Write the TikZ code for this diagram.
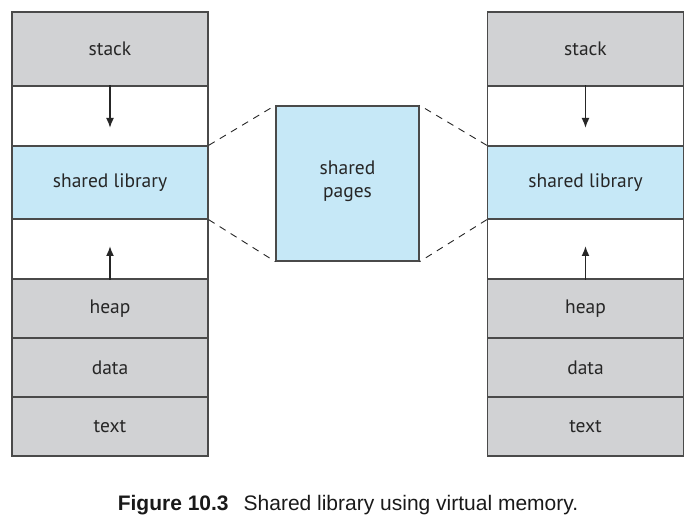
\documentclass[tikz,border=0pt]{standalone}
\usepackage{fontspec}
\newfontfamily\labfont{PT Sans}
\newfontfamily\capfont{Liberation Sans}
\definecolor{cellgray}{HTML}{D1D2D4}
\definecolor{cellblue}{HTML}{C6E8F7}
\definecolor{edge}{HTML}{4A4A4A}
\tikzset{
  cell/.style={draw=edge, line width=1.3pt, minimum width=196pt, inner sep=0pt, font=\labfont\fontsize{19.5}{23}\selectfont, text=black!85},
  graycell/.style={cell, fill=cellgray},
  bluecell/.style={cell, fill=cellblue},
  whitecell/.style={cell, fill=white},
  growarrow/.style={line width=1.7pt, draw=black!85, -{Latex[length=10pt,width=8pt]}},
  linkline/.style={draw=black!85, line width=0.9pt, dash pattern=on 7pt off 6pt}
}
\usetikzlibrary{arrows.meta}
\begin{document}
\begin{tikzpicture}[x=1pt,y=-1pt]
\useasboundingbox (0,0) rectangle (697,521);
% left process
\node[graycell, minimum height=74pt] (lstack) at (110,49) {stack};
\node[whitecell, minimum height=60pt] (lw1) at (110,116) {};
\node[bluecell, minimum height=73pt] (lshared) at (110,182.5) {shared library};
\node[whitecell, minimum height=60pt] (lw2) at (110,249) {};
\node[graycell, minimum height=59pt] (lheap) at (110,308.5) {heap};
\node[graycell, minimum height=59pt] (ldata) at (110,367.5) {data};
\node[graycell, minimum height=59pt] (ltext) at (110,426.5) {text};
% right process
\node[graycell, minimum height=74pt] (rstack) at (585.5,49) {stack};
\node[whitecell, minimum height=60pt] (rw1) at (585.5,116) {};
\node[bluecell, minimum height=73pt] (rshared) at (585.5,182.5) {shared library};
\node[whitecell, minimum height=60pt] (rw2) at (585.5,249) {};
\node[graycell, minimum height=59pt] (rheap) at (585.5,308.5) {heap};
\node[graycell, minimum height=59pt] (rdata) at (585.5,367.5) {data};
\node[graycell, minimum height=59pt] (rtext) at (585.5,426.5) {text};
% shared pages
\node[bluecell, minimum width=143pt, minimum height=155pt, align=center] (pages) at (347.5,183.5) {shared\\pages\\[-14pt]\mbox{}};
% arrows
\coordinate (la1) at (110,128);
\coordinate (la2) at (110,246);
\coordinate (ra1) at (585.5,128);
\coordinate (ra2) at (585.5,246);
\draw[growarrow] (lw1.north) -- (la1);
\draw[growarrow] (lw2.south) -- (la2);
\draw[growarrow] (rw1.north) -- (ra1);
\draw[growarrow] (rw2.south) -- (ra2);
% dashed links
\draw[linkline] (lshared.north east) -- (pages.north west);
\draw[linkline] (lshared.south east) -- (pages.south west);
\draw[linkline] (rshared.north west) -- (pages.north east);
\draw[linkline] (rshared.south west) -- (pages.south east);
% caption
\node[font=\capfont\fontsize{21}{24}\selectfont, text=black!90] (caption) at (348,505) {\textbf{Figure 10.3}\hspace{15pt}Shared library using virtual memory.};
\end{tikzpicture}
\end{document}
